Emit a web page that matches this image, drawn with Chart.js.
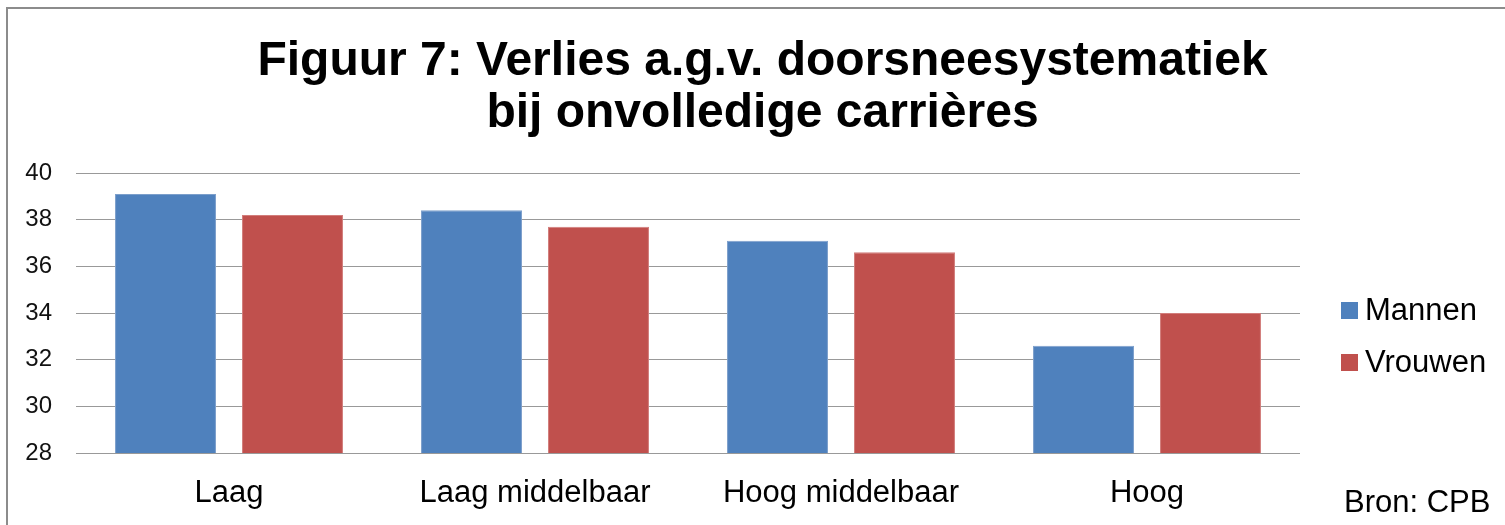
<!DOCTYPE html>
<html>
<head>
<meta charset="utf-8">
<script src="https://cdn.jsdelivr.net/npm/chart.js@4"></script>
<style>
  html, body { margin: 0; padding: 0; background: #fff; }
  #wrap { width: 1505px; height: 525px; position: relative; }
</style>
</head>
<body>
<div id="wrap"><canvas id="c" width="1505" height="525"></canvas></div>
<script>
const categories = ["Laag", "Laag middelbaar", "Hoog middelbaar", "Hoog"];
const mannen = [39.1, 38.4, 37.1, 32.6];
const vrouwen = [38.2, 37.7, 36.6, 34.0];
const seriesNames = ["Mannen", "Vrouwen"];
const titleLines = ["Figuur 7: Verlies a.g.v. doorsneesystematiek", "bij onvolledige carrières"];
const sourceNote = "Bron: CPB";
const yMin = 28, yMax = 40, yStep = 2;

const FONT = "'Liberation Sans', Arial, sans-serif";

const decor = {
  id: 'decor',
  beforeDraw(chart) {
    const ctx = chart.ctx;
    ctx.save();
    ctx.fillStyle = '#fff';
    ctx.fillRect(0, 0, chart.width, chart.height);
    ctx.strokeStyle = '#8c8c8c';
    ctx.lineWidth = 2;
    ctx.beginPath();
    ctx.moveTo(7, chart.height);
    ctx.lineTo(7, 8);
    ctx.lineTo(chart.width, 8);
    ctx.stroke();
    ctx.restore();
  },
  afterDraw(chart) {
    const ctx = chart.ctx;
    ctx.save();
    ctx.font = "31px " + FONT;
    ctx.textBaseline = 'alphabetic';
    ctx.textAlign = 'left';
    const rows = [320, 372];
    chart.data.datasets.forEach((ds, i) => {
      const y = rows[i];
      ctx.fillStyle = ds.backgroundColor;
      ctx.fillRect(1341, y - 18, 17, 17);
      ctx.fillStyle = '#000';
      ctx.fillText(ds.label, 1365, y);
    });
    ctx.fillText(sourceNote, 1344, 512);
    ctx.restore();
  }
};

new Chart(document.getElementById('c'), {
  type: 'bar',
  data: {
    labels: categories,
    datasets: [
      { label: seriesNames[0], data: mannen, backgroundColor: '#4F81BD', borderColor: '#7C9FCB', borderWidth: 1 },
      { label: seriesNames[1], data: vrouwen, backgroundColor: '#C0504D', borderColor: '#D27D7B', borderWidth: 1 }
    ]
  },
  options: {
    responsive: false,
    animation: false,
    devicePixelRatio: 1,
    layout: { padding: { top: 36, left: 20, right: 0, bottom: 0 } },
    datasets: { bar: { categoryPercentage: 0.83, barPercentage: 0.795 } },
    plugins: {
      legend: { display: false },
      tooltip: { enabled: false },
      title: {
        display: true,
        text: titleLines,
        color: '#000',
        font: { family: FONT, size: 48, weight: 'bold', lineHeight: 52 / 48 },
        padding: { top: 0, bottom: 33 }
      }
    },
    scales: {
      x: {
        grid: { display: false, drawTicks: false },
        border: { display: false },
        ticks: { color: '#000', font: { family: FONT, size: 31 }, padding: 22, maxRotation: 0, autoSkip: false },
        afterFit(s) { s.height = 72; }
      },
      y: {
        min: yMin, max: yMax,
        grid: { color: '#999999', lineWidth: 1, drawTicks: false },
        border: { display: false },
        ticks: { stepSize: yStep, color: '#111', font: { family: FONT, size: 24 }, padding: 24 },
        afterFit(s) { s.width = 56; }
      },
      y2: {
        position: 'right',
        display: true,
        grid: { display: false, drawTicks: false },
        border: { display: false },
        ticks: { display: false },
        afterFit(s) { s.width = 205; }
      }
    }
  },
  plugins: [decor]
});
</script>
</body>
</html>
